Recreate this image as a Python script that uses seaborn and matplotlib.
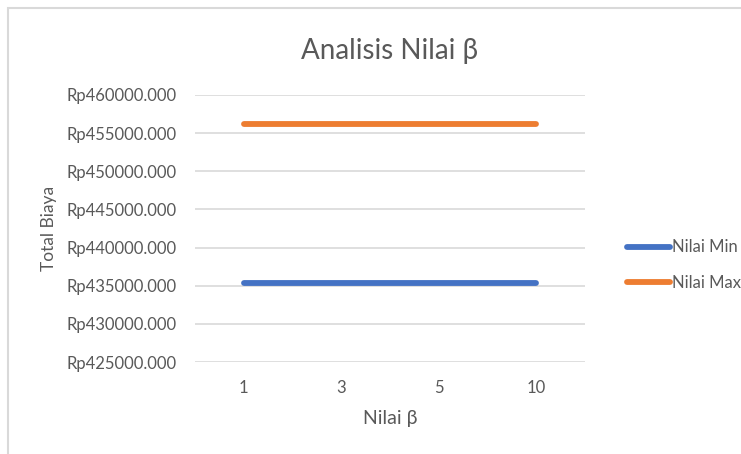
import matplotlib
matplotlib.use("Agg")
import matplotlib.pyplot as plt
import seaborn as sns
import pandas as pd
from matplotlib.patches import Rectangle
from matplotlib.ticker import FuncFormatter, MultipleLocator

beta = ["1", "3", "5", "10"]
nilai_min = [435400, 435400, 435400, 435400]
nilai_max = [456150, 456150, 456150, 456150]
series_names = ["Nilai Min", "Nilai Max"]

df = pd.DataFrame({
    "beta": beta * 2,
    "value": nilai_min + nilai_max,
    "series": [series_names[0]] * len(beta) + [series_names[1]] * len(beta),
})

sns.set_theme(style="white")
plt.rcParams["font.family"] = ["Lato", "DejaVu Sans"]
grey = "#595959"

fig = plt.figure(figsize=(7.41, 4.54), dpi=100)
ax = fig.add_axes([195/741, 1-362/454, (585-195)/741, (362-95)/454])

sns.lineplot(data=df, x="beta", y="value", hue="series",
             palette=["#4472C4", "#ED7D31"], linewidth=4.2, ax=ax,
             solid_capstyle="round", legend=True)

ax.set_xlim(-0.5, 3.5)
ax.set_ylim(425000, 460000)
ax.yaxis.set_major_locator(MultipleLocator(5000))
ax.yaxis.set_major_formatter(FuncFormatter(lambda v, p: f"Rp{v:.3f}"))
ax.grid(axis="y", color="#d9d9d9", linewidth=1.2)
ax.set_axisbelow(True)
for s in ax.spines.values():
    s.set_visible(False)
ax.tick_params(axis="both", length=0, colors=grey, labelsize=12)
ax.tick_params(axis="y", pad=13)
ax.tick_params(axis="x", pad=13)

ax.set_xlabel("Nilai β", fontsize=14, color=grey, labelpad=10)
ax.set_ylabel("Total Biaya", fontsize=12.5, color=grey)
ax.yaxis.set_label_coords(-138/390, 0.5)
ax.set_title("Analisis Nilai β", fontsize=20, color=grey, pad=26)

ax.legend(loc="center left", bbox_to_anchor=(612/741, 1-265/454),
          bbox_transform=fig.transFigure, frameon=False, fontsize=12,
          handlelength=2.6, handletextpad=0.1, labelspacing=1.15,
          labelcolor=grey, title=None)

fig.patches.append(Rectangle((8/741, -0.1), 1.2, 1.1 - 8/454, transform=fig.transFigure,
                             fill=False, edgecolor="#d9d9d9", linewidth=1.5, zorder=0))

fig.savefig("out.png", dpi=100)
